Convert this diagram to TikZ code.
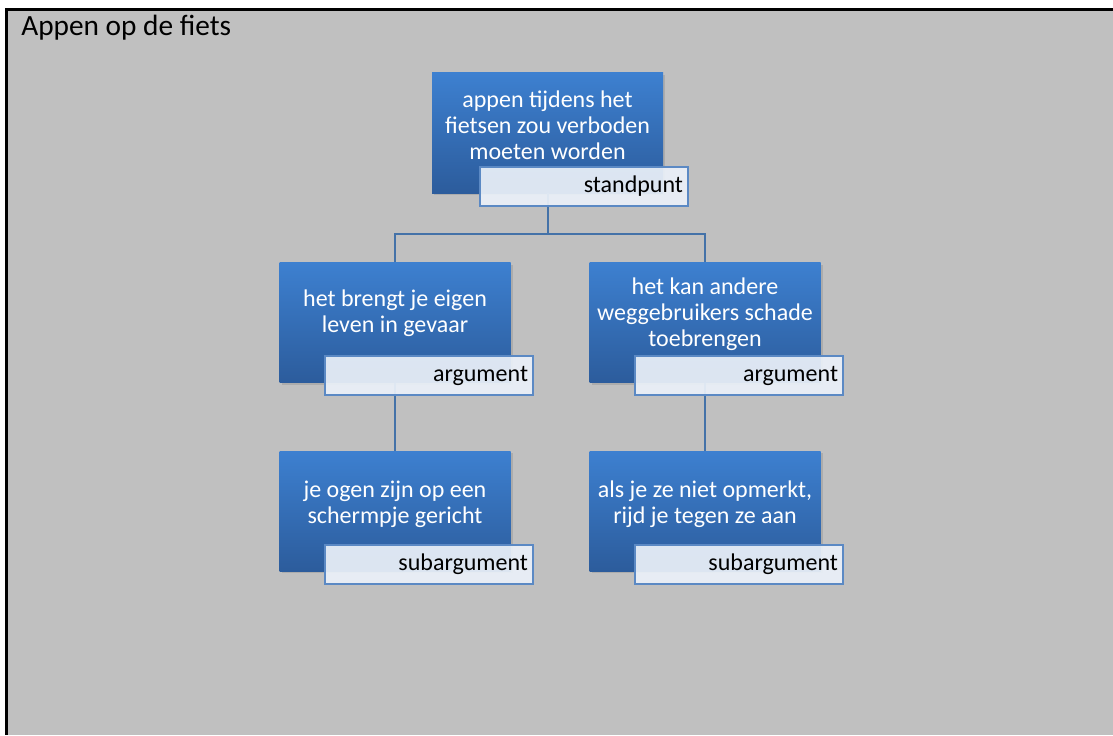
\documentclass[tikz,border=0pt]{standalone}
\usepackage{fontspec}
\setmainfont{Carlito}
\usetikzlibrary{shadows}
\definecolor{bg}{HTML}{C0C0C0}
\definecolor{btop}{HTML}{3D80D0}
\definecolor{bbot}{HTML}{2C5C9C}
\definecolor{lnk}{HTML}{4472A8}
\definecolor{lblfill}{HTML}{EAF0F8}
\definecolor{lbldraw}{HTML}{5B89C4}
\begin{document}
\begin{tikzpicture}[x=0.75pt,y=-0.75pt,
  bluebox/.style={minimum width=173.25pt, minimum height=90pt, inner sep=0pt,
    top color=btop, bottom color=bbot, draw=none,
    drop shadow={shadow xshift=1.5pt, shadow yshift=-1.5pt, opacity=0.3}},
  boxtext/.style={text=white, align=center, inner sep=0pt, font=\fontsize{18}{19.5}\selectfont},
  lbl/.style={minimum width=156pt, minimum height=29.25pt, inner sep=0pt,
    fill=lblfill, fill opacity=0.93, text opacity=1, draw=lbldraw, line width=1.2pt,
    align=right, text width=148.5pt, font=\fontsize{18}{19.5}\selectfont},
  link/.style={draw=lnk, line width=1.5pt}]
\useasboundingbox (0,0) rectangle (1113,735);
\fill[white] (0,0) rectangle (1113,735);
\fill[bg] (5,8) rectangle (1113,735);
\fill[black] (5,8) rectangle (1113,11);
\fill[black] (5,8) rectangle (8,735);
\node[anchor=base west, inner sep=0pt, font=\fontsize{22}{24}\selectfont] (title) at (21,36) {Appen op de fiets};
% boxes
\node[bluebox] (s) at (547.5,133) {};
\node[bluebox] (a1) at (395,322.5) {};
\node[bluebox] (a2) at (705,322.5) {};
\node[bluebox] (b1) at (395,511) {};
\node[bluebox] (b2) at (705,511) {};
% connectors
\coordinate (j) at (547.5,234);
\draw[link] (s.south) -- (j);
\draw[link] (a1.north) |- (j) -| (a2.north);
\draw[link] (a1.south) -- (b1.north);
\draw[link] (a2.south) -- (b2.north);
% texts
\node[boxtext] (st) at (547.5,125) {appen tijdens het\\fietsen zou verboden\\moeten worden};
\node[boxtext] (a1t) at (395,313) {het brengt je eigen\\leven in gevaar};
\node[boxtext] (a2t) at (705,314) {het kan andere\\weggebruikers schade\\toebrengen};
\node[boxtext] (b1t) at (395,504) {je ogen zijn op een\\schermpje gericht};
\node[boxtext] (b2t) at (705,504) {als je ze niet opmerkt,\\rijd je tegen ze aan};
% labels
\node[lbl] (sl) at (584,186.5) {standpunt};
\node[lbl] (a1l) at (429,375.5) {argument};
\node[lbl] (a2l) at (739,375.5) {argument};
\node[lbl] (b1l) at (429,564.5) {subargument};
\node[lbl] (b2l) at (739,564.5) {subargument};
\end{tikzpicture}
\end{document}
